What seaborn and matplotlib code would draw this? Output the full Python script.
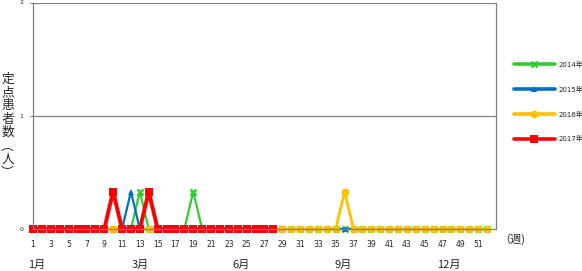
import numpy as np
import pandas as pd
import matplotlib
matplotlib.use("Agg")
import matplotlib.pyplot as plt
import seaborn as sns

# ---- data ----
weeks = list(range(1, 53))
vals_2014 = [0]*52
vals_2014[12] = 0.33   # week 13
vals_2014[18] = 0.33   # week 19
vals_2015 = [0]*52
vals_2015[11] = 0.33   # week 12
vals_2016 = [0]*52
vals_2016[35] = 0.33   # week 36
vals_2017 = [0]*28 + [np.nan]*24
vals_2017[9] = 0.33    # week 10
vals_2017[13] = 0.33   # week 14

series_labels = ["2014年", "2015年", "2016年", "2017年"]
tick_weeks = list(range(1, 52, 2))
month_labels = ["1月", "3月", "6月", "9月", "12月"]
month_x_px = [37, 140, 241, 343, 449]
ylabel_chars = ["定", "点", "患", "者", "数", "︵", "人", "︶"]

sns.set_style("white")
plt.rcParams["font.family"] = ["Noto Sans CJK JP", "DejaVu Sans"]

W, H = 582, 271
fig = plt.figure(figsize=(W/100, H/100), dpi=100)
ax = fig.add_axes([33/W, 1-229/H, (495.5-33)/W, (229-2.5)/H])

styles = [
    dict(color="#33CC33", marker="x", linewidth=1.6, markersize=4.5, markeredgewidth=1.8,
         markeredgecolor="#33CC33"),
    dict(color="#0070C0", marker="^", linewidth=1.6, markersize=5, markeredgewidth=0,
         markeredgecolor="#0070C0"),
    dict(color="#FFC000", marker="o", linewidth=2.0, markersize=5.5, markeredgewidth=0,
         markeredgecolor="#FFC000"),
    dict(color="#FF0000", marker="s", linewidth=2.8, markersize=5.8, markeredgewidth=0,
         markeredgecolor="#FF0000"),
]
all_vals = [vals_2014, vals_2015, vals_2016, vals_2017]
for vals, lab, st in zip(all_vals, series_labels, styles):
    df = pd.DataFrame({"week": weeks, "value": vals})
    sns.lineplot(data=df, x="week", y="value", ax=ax, label=lab, clip_on=False,
                 solid_joinstyle="miter", **st)

ax.set_xlim(1, 52.95)
ax.set_ylim(0, 2)
ax.set_xticks(tick_weeks)
ax.set_xticklabels([str(w) for w in tick_weeks], fontsize=5.5, family="DejaVu Sans")
ax.set_yticks([0, 1, 2])
ax.set_yticklabels(["0", "1", "2"], fontsize=4.5, family="DejaVu Sans")
ax.tick_params(axis="x", length=0, pad=8)
ax.tick_params(axis="y", length=2, pad=5, color="#808080", left=True)
ax.set_xlabel("")
ax.set_ylabel("")
ax.grid(False)
for y in [1, 2]:
    ax.axhline(y, color="#808080", linewidth=0.9, zorder=0)
for side in ["left", "right", "bottom"]:
    ax.spines[side].set_color("#808080")
    ax.spines[side].set_linewidth(0.9)
ax.spines["top"].set_visible(False)

# legend
leg = ax.legend(loc="center left", bbox_to_anchor=(514/W, 1-101.5/H),
                bbox_transform=fig.transFigure, frameon=False,
                prop={"size": 5, "family": ["DejaVu Sans", "Noto Sans CJK JP"]},
                handlelength=5.9, handletextpad=0.55, labelspacing=2.55,
                borderpad=0, borderaxespad=0, numpoints=1)
for h in leg.get_lines():
    h.set_linewidth(2.6)

# month labels
for lab, px in zip(month_labels, month_x_px):
    fig.text(px/W, 1-265/H, lab, fontsize=8, ha="center", va="center")
fig.text(512/W, 1-239/H, "（週)", fontsize=8, ha="center", va="center")

# vertical y label
y0, pitch = 79, 13.4
for i, ch in enumerate(ylabel_chars):
    fig.text(7.5/W, 1-(y0+i*pitch)/H, ch, fontsize=9.2, ha="center", va="center")

fig.savefig("out.png", dpi=100)
